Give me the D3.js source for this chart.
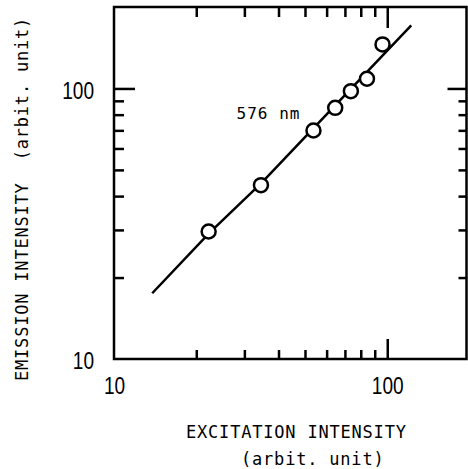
<!DOCTYPE html>
<html>
<head>
<meta charset="utf-8">
<script src="https://cdn.jsdelivr.net/npm/d3@7"></script>
<style>
  body { margin: 0; background: #fff; }
  .mono { font-family: "DejaVu Sans Mono", "Liberation Mono", monospace; fill: #000; }
  .num text { font-family: "Liberation Sans Narrow", "Liberation Sans", Arial, sans-serif; fill: #000; }
</style>
</head>
<body>
<svg width="468" height="469"></svg>
<script>

  // measured points (excitation, emission)
  var excitation = [22.2, 34.5, 53.7, 64.5, 73.6, 84.3, 96.1];
  var emission = [29.6, 43.9, 69.9, 84.8, 97.7, 108.6, 145.5];

  // drawn fit line through these knots
  var fitExcitation = [13.8, 22.3, 34.6, 122.4];
  var fitEmission = [17.5, 29.2, 44.7, 171.1];

  var minorTicks = [20, 30, 40, 50, 60, 70, 80, 90];
  var majorTicks = [100];
  var labelTicks = [10, 100];

  var lineLabel = "576 nm";
  var labelPos = [28.1, 77.4];
  var xTitle = "EXCITATION INTENSITY";
  var xUnit = "(arbit. unit)";
  var yTitle = "EMISSION INTENSITY  (arbit. unit)";

  var svg = d3.select("svg");

  var x = d3.scaleLog().domain([10, 195]).range([114, 466.5]);
  var y = d3.scaleLog().domain([10, 200]).range([359, 7]);

  var xLeft = x.range()[0], xRight = x.range()[1];
  var yTop = y.range()[1], yBottom = y.range()[0];

  function tickAxis(g, axis)
  {
    g.call(axis);
    g.select(".domain").remove();
    g.selectAll(".tick line").attr("stroke", "black").attr("stroke-width", 2.5);
    g.selectAll(".tick text").remove();
  }

  // inner ticks, all four sides
  [[minorTicks, 9], [majorTicks, 20]].forEach(function (t)
  {
    svg.append("g").attr("transform", "translate(0," + yBottom + ")")
        .call(tickAxis, d3.axisBottom(x).tickValues(t[0]).tickSize(-t[1]));
    svg.append("g").attr("transform", "translate(0," + yTop + ")")
        .call(tickAxis, d3.axisTop(x).tickValues(t[0]).tickSize(-t[1] - 1));
    svg.append("g").attr("transform", "translate(" + xLeft + ",0)")
        .call(tickAxis, d3.axisLeft(y).tickValues(t[0]).tickSize(-t[1] - 1));
    svg.append("g").attr("transform", "translate(" + xRight + ",0)")
        .call(tickAxis, d3.axisRight(y).tickValues(t[0]).tickSize(-t[1] + 1));
  });

  // frame
  svg.append("rect")
      .attr("x", xLeft).attr("y", yTop)
      .attr("width", xRight - xLeft).attr("height", yBottom - yTop)
      .attr("fill", "none").attr("stroke", "black").attr("stroke-width", 2.5);

  // tick labels (narrow digits)
  function narrow(sel)
  {
    sel.attr("font-size", 23)
        .attr("textLength", function (d) { return String(d).length * 10.6; })
        .attr("lengthAdjust", "spacingAndGlyphs");
  }

  var xl = svg.append("g").attr("class", "num")
      .attr("transform", "translate(0," + yBottom + ")")
      .call(d3.axisBottom(x).tickValues(labelTicks).tickSize(0).tickPadding(19).tickFormat(d3.format("d")));
  xl.select(".domain").remove();
  xl.selectAll("text").call(narrow);

  var yl = svg.append("g").attr("class", "num")
      .attr("transform", "translate(" + xLeft + ",0)")
      .call(d3.axisLeft(y).tickValues(labelTicks).tickSize(0).tickPadding(20).tickFormat(d3.format("d")));
  yl.select(".domain").remove();
  yl.selectAll("text").call(narrow).attr("dy", "0.42em");

  // fit line
  var fit = fitExcitation.map(function (d, i) { return [d, fitEmission[i]]; });
  svg.append("path")
      .datum(fit)
      .attr("fill", "none").attr("stroke", "black").attr("stroke-width", 2.5)
      .attr("stroke-linejoin", "round")
      .attr("d", d3.line().x(function (d) { return x(d[0]); }).y(function (d) { return y(d[1]); }));

  // points
  svg.selectAll("circle.pt").data(excitation).enter()
      .append("circle").attr("class", "pt")
      .attr("cx", function (d) { return x(d); })
      .attr("cy", function (d, i) { return y(emission[i]); })
      .attr("r", 7)
      .attr("fill", "white").attr("stroke", "black").attr("stroke-width", 2.5);

  svg.append("text").attr("class", "mono")
      .attr("x", x(labelPos[0])).attr("y", y(labelPos[1]))
      .attr("font-size", 16).attr("letter-spacing", 1)
      .text(lineLabel);

  svg.append("text").attr("class", "mono")
      .attr("x", 186).attr("y", 438)
      .attr("font-size", 17).attr("letter-spacing", 0.8)
      .text(xTitle);

  svg.append("text").attr("class", "mono")
      .attr("x", 241).attr("y", 465)
      .attr("font-size", 17).attr("letter-spacing", 0.8)
      .text(xUnit);

  svg.append("text").attr("class", "mono")
      .attr("transform", "translate(28,381) rotate(-90)")
      .attr("font-size", 17).attr("letter-spacing", 0.8)
      .attr("xml:space", "preserve").style("white-space", "pre")
      .text(yTitle);
</script>
</body>
</html>
